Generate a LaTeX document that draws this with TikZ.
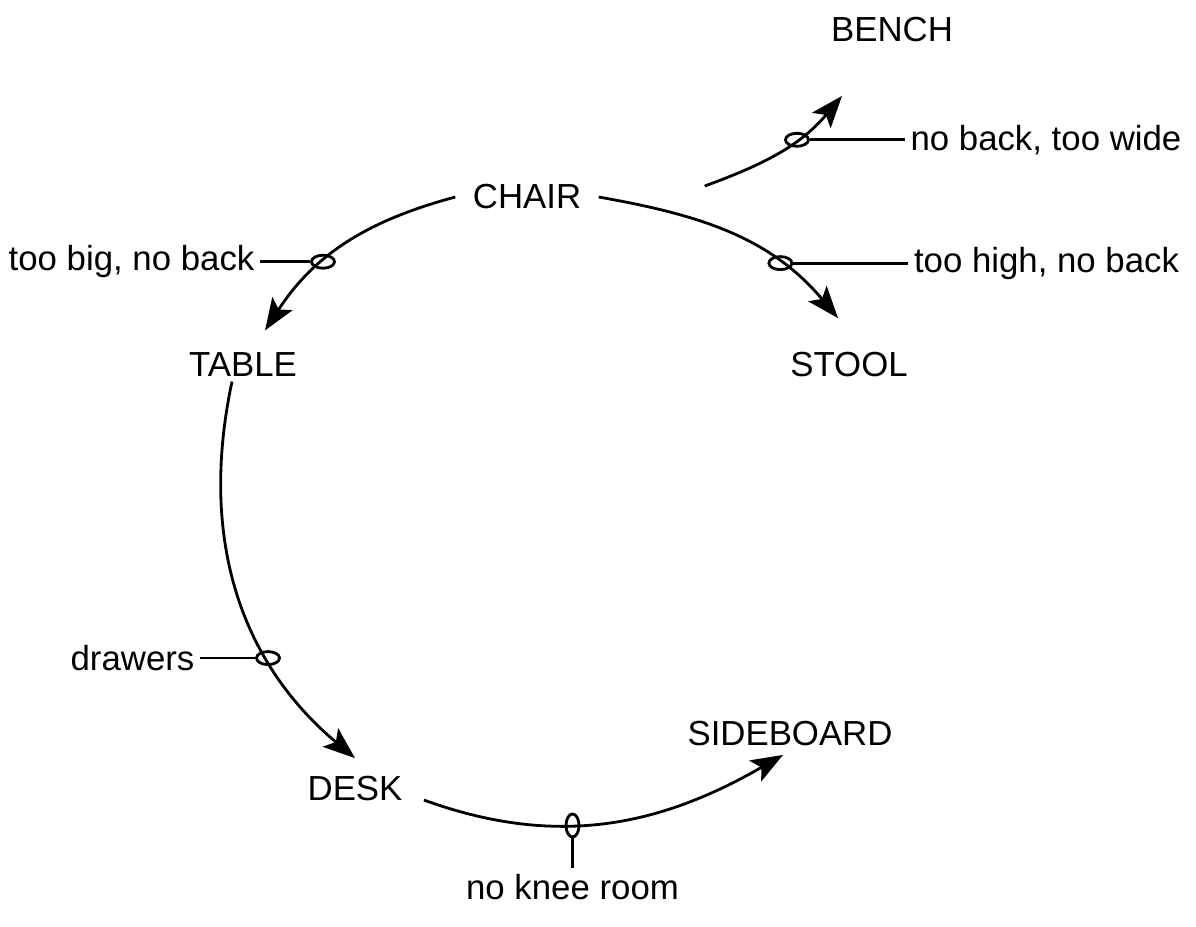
\documentclass[tikz,border=0pt]{standalone}
\usepackage{fontspec}
\setmainfont{Liberation Sans}
\usetikzlibrary{positioning}
\usetikzlibrary{arrows.meta}
\usetikzlibrary{shapes.geometric}

\begin{document}
\begin{tikzpicture}[item/.style={inner sep=0pt, outer sep=5pt, font=\fontsize{9.9}{12}\selectfont},
    note/.style={inner sep=0.5mm, font=\fontsize{9.9}{12}\selectfont},
    tap/.style={draw, ellipse, inner sep=0pt, minimum width=2.3mm, minimum height=1.3mm, line width=0.8pt},
    vtap/.style={tap, minimum width=1.3mm, minimum height=2.3mm},
    link/.style={-{Stealth[length=3.2mm, width=2.4mm, inset=0.7mm]}, line width=0.8pt},
    lead/.style={line width=0.8pt},
]
\useasboundingbox (0,0) rectangle (11.96,-9.26);
\node[item] (chair) at (5.27,-1.97) {CHAIR};
\node[item] (table) at (2.43,-3.65) {TABLE};
\node[item] (stool) at (8.49,-3.65) {STOOL};
\node[item] (bench) at (8.92,-0.30) {BENCH};
\node[item] (desk) at (3.55,-7.88) {DESK};
\node[item] (sideboard) at (7.90,-7.33) {SIDEBOARD};

\draw[link] (chair.west) to[out=195, in=57] node[pos=0.63, tap] (tbig) {} ([xshift=2.2mm, yshift=0.5mm]table.north);
\draw[link] (chair.east) to[out=-10, in=130] node[pos=0.72, tap] (thigh) {} ([xshift=-1.1mm, yshift=1.7mm]stool.north);
\draw[link] ([xshift=10.6mm, yshift=1.1mm]chair.east) to[out=20, in=230] node[pos=0.63, tap] (twide) {} ([xshift=-5mm, yshift=-3.6mm]bench.south);
\draw[link] ([xshift=-1.1mm, yshift=1.3mm]table.south) to[out=258, in=140] node[pos=0.69, tap] (tdraw) {} (desk.north);
\draw[link] ([xshift=0.4mm, yshift=-1.2mm]desk.east) to[out=-20, in=210] node[pos=0.4, vtap] (tknee) {} ([xshift=-0.7mm, yshift=0.8mm]sideboard.south);

\node[note, left=5mm of tbig] (lbig) {too big, no back};
\node[note, right=11.5mm of thigh] (lhigh) {too high, no back};
\node[note, right=9.5mm of twide] (lwide) {no back, too wide};
\node[note, left=5.5mm of tdraw] (ldraw) {drawers};
\node[note, below=3mm of tknee] (lknee) {no knee room};

\draw[lead] (lbig) -- (tbig);
\draw[lead] (lhigh) -- (thigh);
\draw[lead] (lwide) -- (twide);
\draw[lead] (ldraw) -- (tdraw);
\draw[lead] (lknee) -- (tknee);
\end{tikzpicture}
\end{document}
